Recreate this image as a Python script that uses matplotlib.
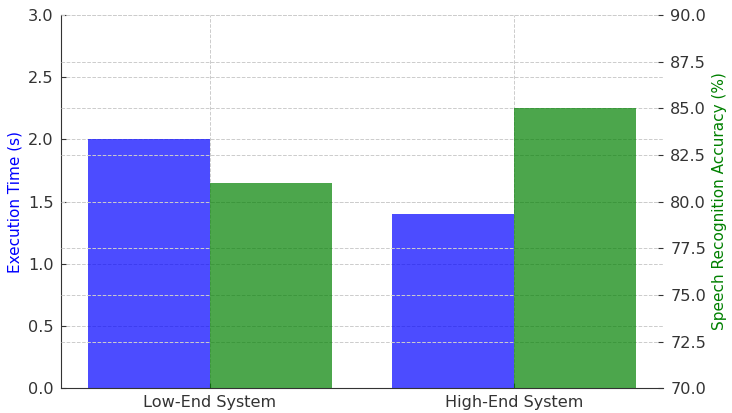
import matplotlib.pyplot as plt
import numpy as np

systems = ['Low-End System', 'High-End System']
exec_time = [2.0, 1.4]
accuracy = [81.0, 85.0]

x = np.arange(len(systems))
width = 0.4

fig, ax1 = plt.subplots(figsize=(7.32, 4.13), dpi=100)
ax2 = ax1.twinx()

ax1.bar(x - width / 2, exec_time, width, color='blue', alpha=0.7)
ax2.bar(x + width / 2, accuracy, width, color='green', alpha=0.7)

ax1.set_ylim(0, 3.0)
ax2.set_ylim(70, 90)
ax1.set_xticks(x)
ax1.set_xticklabels(systems)
ax1.set_ylabel('Execution Time (s)', color='blue', fontsize=11)
ax2.set_ylabel('Speech Recognition Accuracy (%)', color='green', fontsize=11)

for ax in (ax1, ax2):
    ax.grid(True, linestyle='--', color='#cccccc', linewidth=0.7)
    ax.set_axisbelow(True)
    ax.tick_params(labelsize=11.6, colors='#333333', direction='in',
                   length=3.5, pad=5)
    ax.spines['top'].set_visible(False)
ax1.spines['right'].set_visible(False)
ax2.spines['right'].set_visible(False)
ax2.spines['left'].set_visible(False)
ax2.spines['bottom'].set_visible(False)
ax1.spines['left'].set_color('#333333')
ax1.spines['bottom'].set_color('#333333')
ax2.grid(True, axis='y', linestyle='--', color='#cccccc', linewidth=0.7)
ax2.set_zorder(ax1.get_zorder() + 1)
ax2.patch.set_visible(False)

fig.subplots_adjust(left=0.083, right=0.906, top=0.964, bottom=0.06)
fig.savefig('out.png')
